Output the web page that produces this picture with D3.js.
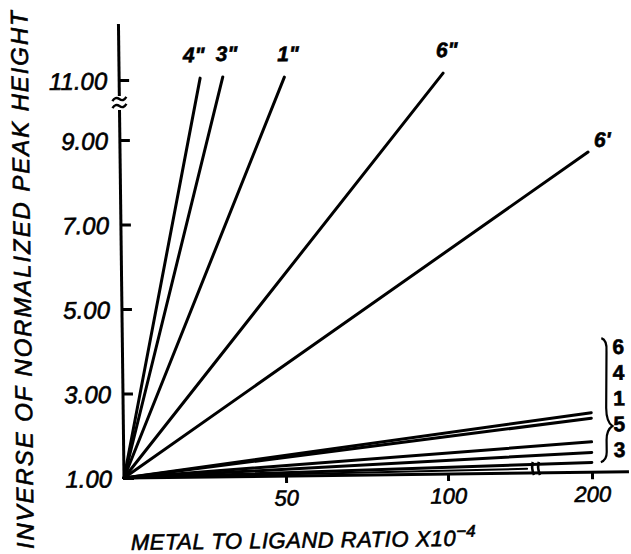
<!DOCTYPE html>
<html lang="en">
<head>
<meta charset="utf-8">
<title>peak height vs metal ratio</title>
<script src="https://cdn.jsdelivr.net/npm/d3@7"></script>
<style>
  body { margin: 0; background: #fff; }
  text { font-family: "Liberation Sans", Arial, sans-serif; font-style: italic; fill: #000;
         stroke: #000; stroke-width: 0.6px; }
</style>
</head>
<body>
<script>
var w = 631;
var h = 554;

// steep series (labels at top ends)
var steepNames = ['4"', '3"', '1"', '6"', "6'"];
var steepX = [25, 32, 51, 100, 200];
var steepY = [11.03, 11.06, 11.03, 11.1, 8.58];

// shallow series, all ending at 200
var flatNames = ["6", "4", "1", "5", "3"];
var flatX = [200, 200, 200, 200, 200];
var flatY = [2.41, 2.28, 1.72, 1.47, 1.23];

// one unlabelled line running into the axis break
var extraX = [155];
var extraY = [1.1];

var yTicks = [1, 3, 5, 7, 9, 11];
var xTicks = [50, 100, 200];

// broken axes -> piecewise scales
var xScale = d3.scaleLinear().domain([0, 100, 200]).range([124, 448, 592]);
var yScale = d3.scaleLinear().domain([1, 9, 11]).range([478, 140, 80]);

var svg = d3.select("body").append("svg")
    .attr("width", w)
    .attr("height", h);

// the scan is tilted a little, so turn everything around the origin
var g = svg.append("g")
    .attr("transform", "rotate(-0.7," + xScale(0) + "," + yScale(1) + ")");

// y axis line with a break near the top
g.append("line")
    .attr("x1", 124).attr("x2", 124)
    .attr("y1", 24).attr("y2", 96)
    .attr("stroke", "#000").attr("stroke-width", 3);
g.append("line")
    .attr("x1", 124).attr("x2", 124)
    .attr("y1", 110).attr("y2", yScale(1))
    .attr("stroke", "#000").attr("stroke-width", 3);
[99, 106].forEach(function(yy){
    g.append("path")
        .attr("d", "M117," + (yy + 2) + " q3,-5 7,-2 t7,-2")
        .attr("fill", "none").attr("stroke", "#000").attr("stroke-width", 2.4);
});

// x axis line
g.append("line")
    .attr("x1", xScale(0)).attr("x2", 629)
    .attr("y1", yScale(1)).attr("y2", yScale(1))
    .attr("stroke", "#000").attr("stroke-width", 3);
// x axis break marks
[533, 539].forEach(function(xx){
    g.append("path")
        .attr("d", "M" + xx + "," + (yScale(1) - 11) + " q-2,6 1,13")
        .attr("fill", "none").attr("stroke", "#000").attr("stroke-width", 2.6);
});

var yAxis = d3.axisLeft(yScale)
    .tickValues(yTicks)
    .tickSize(-10)
    .tickSizeOuter(0)
    .tickPadding(12)
    .tickFormat(d3.format(".2f"));

var yg = g.append("g")
    .attr("transform", "translate(124,0)")
    .call(yAxis);
yg.select(".domain").remove();
yg.selectAll(".tick line").attr("stroke", "#000").attr("stroke-width", 3);
yg.selectAll(".tick text")
    .attr("font-size", 24)
    .attr("font-family", null)
    .attr("dy", "0.36em");

var xAxis = d3.axisBottom(xScale)
    .tickValues(xTicks)
    .tickSize(7)
    .tickSizeOuter(0)
    .tickPadding(7);

var xg = g.append("g")
    .attr("transform", "translate(0," + yScale(1) + ")")
    .call(xAxis);
xg.select(".domain").remove();
xg.selectAll(".tick line").attr("stroke", "#000").attr("stroke-width", 3);
xg.selectAll(".tick text")
    .attr("font-size", 22)
    .attr("font-family", null);

// data lines, each from the origin (0, 1.00)
function seg(xs, ys, names) {
    return xs.map(function(x, i){
        return { name: names ? names[i] : "", x: x, y: ys[i] };
    });
}
var steep = seg(steepX, steepY, steepNames);
var flat = seg(flatX, flatY, flatNames);
var extra = seg(extraX, extraY, null);

var line = d3.line()
    .x(function(d){ return xScale(d[0]); })
    .y(function(d){ return yScale(d[1]); });

g.selectAll("path.series")
    .data(steep.concat(flat).concat(extra))
    .enter()
    .append("path")
    .attr("class", "series")
    .attr("d", function(d){ return line([[0, 1], [d.x, d.y]]); })
    .attr("fill", "none")
    .attr("stroke", "#000")
    .attr("stroke-width", function(d){ return d.name === "" ? 2 : 3; })
    .attr("stroke-linecap", "round");

// labels at the top ends of the steep lines
g.selectAll("text.steep")
    .data(steep)
    .enter()
    .append("text")
    .attr("class", "steep")
    .attr("font-size", 21)
    .attr("font-weight", "bold")
    .attr("text-anchor", function(d){ return d.y > 10 ? "middle" : "start"; })
    .attr("x", function(d, i){
        if (d.y <= 10) return xScale(d.x) + 6;
        return xScale(d.x) + (i === 0 ? -6 : 4);
    })
    .attr("y", function(d){ return yScale(d.y) - (d.y > 10 ? 16 : 5); })
    .text(function(d){ return d.name; });

// brace + stacked labels for the shallow lines
var labelY = d3.scalePoint().domain(flatNames).range([358, 461]);

g.append("path")
    .attr("d", "M603,344 q6,2 5,14 l-1,56 q0,14 6,18 q-6,4 -6,14 l0,12 q0,8 -6,10")
    .attr("fill", "none").attr("stroke", "#000").attr("stroke-width", 2.2);

g.selectAll("text.flat")
    .data(flat)
    .enter()
    .append("text")
    .attr("class", "flat")
    .attr("font-size", 21)
    .attr("font-weight", "bold")
    .style("font-style", "normal")
    .attr("x", 614)
    .attr("y", function(d){ return labelY(d.name) + 2; })
    .text(function(d){ return d.name; });

// axis titles
var xt = g.append("text")
    .attr("x", 130)
    .attr("y", 550)
    .attr("font-size", 22);
xt.append("tspan")
    .attr("textLength", 325)
    .attr("lengthAdjust", "spacing")
    .text("METAL TO LIGAND RATIO X10");
xt.append("tspan")
    .attr("dy", -9)
    .attr("font-size", 17)
    .text("\u22124");

g.append("text")
    .attr("transform", "translate(33,548) rotate(-90)")
    .attr("font-size", 24)
    .attr("textLength", 538)
    .attr("lengthAdjust", "spacing")
    .text("INVERSE OF NORMALIZED PEAK HEIGHT");
</script>
</body>
</html>
